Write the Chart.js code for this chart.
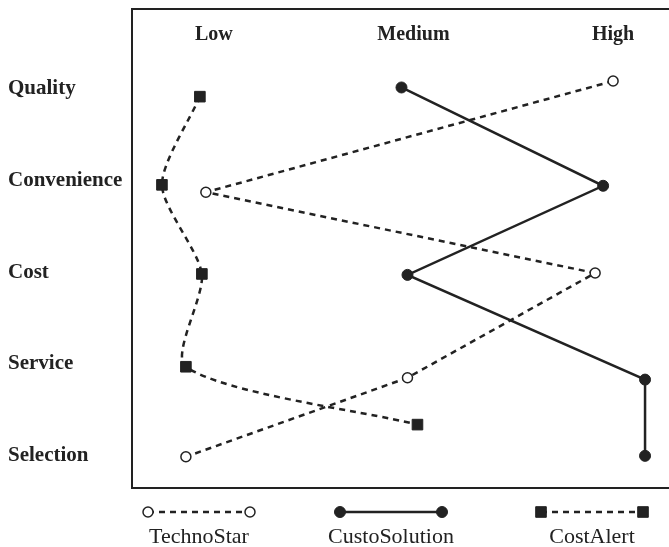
<!DOCTYPE html>
<html>
<head>
<meta charset="utf-8">
<script src="https://cdn.jsdelivr.net/npm/chart.js@4"></script>
<style>
  html, body { margin: 0; padding: 0; background: #fff; overflow: hidden; }
</style>
</head>
<body>
<canvas id="map-chart" width="669" height="547"></canvas>
<script>
// rows (top to bottom) and columns of the map
const attributes = ["Quality", "Convenience", "Cost", "Service", "Selection"];
const levels = ["Low", "Medium", "High"];
const seriesNames = ["TechnoStar", "CustoSolution", "CostAlert"];

// rating position (1 = Low, 2 = Medium, 3 = High) and row position for each attribute
const technoStarX = [3.0, 0.96, 2.91, 1.97, 0.86];
const technoStarY = [0.92, 2.13, 3.01, 4.15, 5.01];
const custoSolutionX = [1.94, 2.95, 1.97, 3.16, 3.16];
const custoSolutionY = [0.99, 2.06, 3.03, 4.17, 5.0];
const costAlertX = [0.93, 0.74, 0.94, 0.86, 2.02];
const costAlertY = [1.09, 2.05, 3.02, 4.03, 4.66];

const INK = "#222";
const AXIS_FONT = { family: "'Liberation Serif', serif", size: 20, weight: "bold" };

function toPoints(xs, ys) {
  return xs.map((x, i) => ({ x: x, y: ys[i] }));
}

// open box: top, left and bottom edges
const boxPlugin = {
  id: "box",
  beforeDraw(chart) {
    const { ctx, chartArea, scales } = chart;
    const top = scales.x.top;
    ctx.save();
    ctx.strokeStyle = INK;
    ctx.lineWidth = 2;
    ctx.beginPath();
    ctx.moveTo(chart.width + 2, top);
    ctx.lineTo(chartArea.left, top);
    ctx.lineTo(chartArea.left, chartArea.bottom);
    ctx.lineTo(chart.width + 2, chartArea.bottom);
    ctx.stroke();
    ctx.restore();
  },
};

// legend: marker - line - marker with the name underneath
const legendCenters = [199, 391, 592];
const legendPlugin = {
  id: "lineLegend",
  afterDraw(chart) {
    const { ctx } = chart;
    const y = chart.chartArea.bottom + 24;
    chart.data.datasets.forEach((ds, i) => {
      const cx = legendCenters[i];
      ctx.save();
      ctx.strokeStyle = ds.borderColor;
      ctx.lineWidth = ds.borderWidth;
      ctx.setLineDash(ds.borderDash || []);
      ctx.beginPath();
      ctx.moveTo(cx - 51, y);
      ctx.lineTo(cx + 51, y);
      ctx.stroke();
      ctx.setLineDash([]);
      ctx.fillStyle = ds.pointBackgroundColor;
      ctx.strokeStyle = ds.pointBorderColor;
      ctx.lineWidth = ds.pointBorderWidth;
      [cx - 51, cx + 51].forEach((px) => {
        Chart.helpers.drawPoint(ctx, {
          pointStyle: ds.pointStyle,
          radius: ds.pointRadius,
          rotation: 0,
          borderWidth: ds.pointBorderWidth,
        }, px, y);
      });
      ctx.fillStyle = INK;
      ctx.font = "22px 'Liberation Serif', serif";
      ctx.textAlign = "center";
      ctx.textBaseline = "alphabetic";
      ctx.fillText(ds.label, cx, y + 31);
      ctx.restore();
    });
  },
};

const ctx = document.getElementById("map-chart").getContext("2d");

new Chart(ctx, {
  type: "scatter",
  data: {
    datasets: [
      {
        label: seriesNames[0],
        data: toPoints(technoStarX, technoStarY),
        showLine: true,
        borderColor: INK,
        borderWidth: 2.5,
        borderDash: [6, 5],
        tension: 0,
        pointStyle: "circle",
        pointRadius: 5,
        pointBackgroundColor: "#fff",
        pointBorderColor: INK,
        pointBorderWidth: 1.5,
      },
      {
        label: seriesNames[1],
        data: toPoints(custoSolutionX, custoSolutionY),
        showLine: true,
        borderColor: INK,
        borderWidth: 2.5,
        tension: 0,
        pointStyle: "circle",
        pointRadius: 5.5,
        pointBackgroundColor: INK,
        pointBorderColor: INK,
        pointBorderWidth: 1,
      },
      {
        label: seriesNames[2],
        data: toPoints(costAlertX, costAlertY),
        showLine: true,
        borderColor: INK,
        borderWidth: 2.5,
        borderDash: [6, 5],
        tension: 0.25,
        pointStyle: "rect",
        pointRadius: 7.5,
        pointBackgroundColor: INK,
        pointBorderColor: INK,
        pointBorderWidth: 1,
      },
    ],
  },
  options: {
    responsive: false,
    animation: false,
    devicePixelRatio: 1,
    layout: { autoPadding: false, padding: { left: 8, top: 9, right: 0, bottom: 59 } },
    plugins: {
      legend: { display: false },
      tooltip: { enabled: false },
    },
    scales: {
      x: {
        type: "linear",
        position: "top",
        min: 0.59,
        max: 3.28,
        grid: { display: false, drawTicks: false },
        border: { display: false },
        afterBuildTicks: (scale) => {
          scale.ticks = levels.map((_, i) => ({ value: i + 1 }));
        },
        afterFit: (scale) => {
          scale.height = 50;
          scale.paddingLeft = 0;
          scale.paddingRight = 0;
        },
        ticks: {
          color: INK,
          font: AXIS_FONT,
          padding: 12,
          maxRotation: 0,
          autoSkip: false,
          callback: (v) => levels[v - 1],
        },
      },
      y: {
        type: "linear",
        reverse: true,
        min: 0.68,
        max: 5.35,
        grid: { display: false, drawTicks: false },
        border: { display: false },
        afterBuildTicks: (scale) => {
          scale.ticks = attributes.map((_, i) => ({ value: i + 1 }));
        },
        afterFit: (scale) => {
          scale.width = 124;
          scale.paddingTop = 0;
          scale.paddingBottom = 0;
        },
        ticks: {
          color: INK,
          font: { family: "'Liberation Serif', serif", size: 21, weight: "bold" },
          crossAlign: "far",
          autoSkip: false,
          callback: (v) => attributes[v - 1],
        },
      },
    },
  },
  plugins: [boxPlugin, legendPlugin],
});
</script>
</body>
</html>
